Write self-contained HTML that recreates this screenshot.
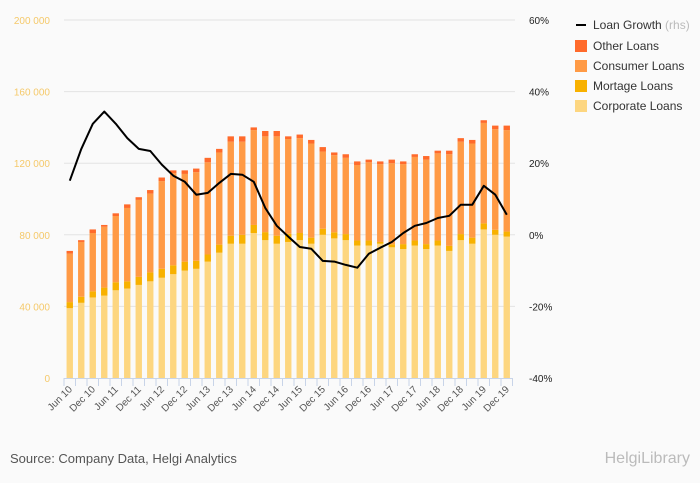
<!DOCTYPE html>
<html><head><meta charset="utf-8">
<style>
body{margin:0;background:#fafafa;font-family:"Liberation Sans",sans-serif;}
svg{display:block}
</style></head>
<body>
<svg id="chart" width="700" height="483" viewBox="0 0 700 483" xmlns="http://www.w3.org/2000/svg">
<rect x="0" y="0" width="700" height="483" fill="#fafafa"/>
<g id="grid"></g>
<g id="bars"></g>
<g id="line"></g>
<g id="axes"></g>
<g font-size="12" fill="#333">
  <line x1="576" y1="25" x2="586" y2="25" stroke="#000" stroke-width="2"/>
  <text x="593" y="29">Loan Growth <tspan fill="#bbb">(rhs)</tspan></text>
  <rect x="575" y="40" width="12" height="12" fill="#ff6a2b"/>
  <text x="593" y="50">Other Loans</text>
  <rect x="575" y="60" width="12" height="12" fill="#ff9a45"/>
  <text x="593" y="70">Consumer Loans</text>
  <rect x="575" y="80" width="12" height="12" fill="#f8b100"/>
  <text x="593" y="90">Mortage Loans</text>
  <rect x="575" y="100" width="12" height="12" fill="#fdd680"/>
  <text x="593" y="110">Corporate Loans</text>
</g>
<text x="10" y="463" font-size="13" fill="#555">Source: Company Data, Helgi Analytics</text>
<text x="690" y="463" font-size="16" fill="#bbb" text-anchor="end">HelgiLibrary</text>
</svg>
<script>
const categories = ["Jun 10","Sep 10","Dec 10","Mar 11","Jun 11","Sep 11","Dec 11","Mar 12","Jun 12","Sep 12","Dec 12","Mar 13","Jun 13","Sep 13","Dec 13","Mar 14","Jun 14","Sep 14","Dec 14","Mar 15","Jun 15","Sep 15","Dec 15","Mar 16","Jun 16","Sep 16","Dec 16","Mar 17","Jun 17","Sep 17","Dec 17","Mar 18","Jun 18","Sep 18","Dec 18","Mar 19","Jun 19","Sep 19","Dec 19"];
const corporate = [39,42,45,46,49,50,52,54,56,58,60,61,65,70,75,75,81,77,75,76,77,75,80,78,77,74,74,75,73,72,74,72,74,71,77,75,83,80,79];
const mortgage = [3.4,3.4,3.4,4.5,4.5,4,4.5,5,5,5,5,4.5,4,4.5,4.5,5,4.5,4.5,4.5,4.6,4,3.4,3.4,3.4,3.4,2.8,2.8,1,1.7,2.8,2.8,2.8,2.8,2.8,3.4,3.4,3.4,2.8,2.8];
const consumer = [27.1,30.6,32.6,34,37,41,43,44,49,51.5,49,49.5,51.5,51.5,52.5,52,53,53.5,55.5,52.9,53,52.6,43.1,43.1,42.6,42.2,43.7,43.5,45.3,44.7,46.7,47.2,48.7,51.2,51.6,52.6,56.1,56.2,56.7];
const other = [1.5,1,2,1,1.5,2,1.5,2,2,1.5,2,2,2.5,2,3,3,1.5,3,3,1.5,2,2,2.5,1.5,2,2,1.5,1.5,2,1.5,1.5,2,1.5,2,2,2,1.5,2,2.5];
const growth = [15.1,24,31,34.4,31,27,24,23.4,19.6,16.5,14.8,11.2,11.7,14.5,17,16.8,14.8,7.5,2.5,-0.5,-3.4,-3.9,-7.3,-7.5,-8.4,-9.2,-5.3,-3.6,-2,0.5,2.5,3.3,4.7,5.3,8.4,8.4,13.7,11.2,5.6];
const leftTicks = [0,40,80,120,160,200];
const leftTickLabels = ["0","40 000","80 000","120 000","160 000","200 000"];
const rightTicks = [-40,-20,0,20,40,60];
const rightTickLabels = ["-40%","-20%","0%","20%","40%","60%"];

const NS="http://www.w3.org/2000/svg";
const X0=64, STEP=11.5, TOP=20, BOT=378;
const yL=v=>BOT-(v/200)*(BOT-TOP);
const yR=p=>BOT-((p+40)/100)*(BOT-TOP);
const xC=i=>X0+STEP*(i+0.5);
function mk(tag,attrs,parent){const e=document.createElementNS(NS,tag);for(const k in attrs)e.setAttribute(k,attrs[k]);parent.appendChild(e);return e;}
const grid=document.getElementById('grid'),bars=document.getElementById('bars'),axes=document.getElementById('axes'),lineG=document.getElementById('line');
leftTicks.forEach((t,i)=>{
  if(i>0){const g=mk('line',{x1:X0,x2:515,y1:yL(t),y2:yL(t),stroke:'#e3e3e3','stroke-width':1},grid);
  
  }
  const l=mk('text',{x:50,y:yL(t)+4,'font-size':10,fill:'#f5c96a','text-anchor':'end'},axes);l.textContent=leftTickLabels[i];
  
  
});
rightTicks.forEach((t,i)=>{
  const l=mk('text',{x:529,y:yR(t)+4,'font-size':10,fill:'#222'},axes);l.textContent=rightTickLabels[i];
  
  
});
const series=[[corporate,'#fdd680','corporate'],[mortgage,'#f8b100','mortgage'],[consumer,'#ff9a45','consumer'],[other,'#ff6a2b','other']];
categories.forEach((c,i)=>{
  let base=0;
  series.forEach(([arr,col,nm])=>{
    const v=arr[i];
    const r=mk('rect',{x:xC(i)-3.2,width:6.4,y:yL(base+v),height:yL(base)-yL(base+v),fill:col},bars);
    
    
    base+=v;
  });
});
const ax=mk('line',{x1:X0,x2:X0+STEP*39,y1:BOT+0.5,y2:BOT+0.5,stroke:'#c8d4e8'},axes);


for(let i=0;i<=39;i++){
  const tk=mk('line',{x1:X0+STEP*i,x2:X0+STEP*i,y1:BOT,y2:BOT+8,stroke:'#c8d4e8'},axes);
  
  
}
categories.forEach((c,i)=>{
  if(i%2)return;
  const x=xC(i)+3,y=BOT+12;
  const t=mk('text',{x:x,y:y,'font-size':10,fill:'#555','text-anchor':'end',transform:`rotate(-45 ${x} ${y})`},axes);
  t.textContent=c;
  
  
});
const pts=growth.map((g,i)=>xC(i).toFixed(1)+','+yR(g).toFixed(1)).join(' ');
const pl=mk('polyline',{points:pts,fill:'none',stroke:'#000','stroke-width':2,'stroke-linejoin':'round'},lineG);


</script>
</body></html>
